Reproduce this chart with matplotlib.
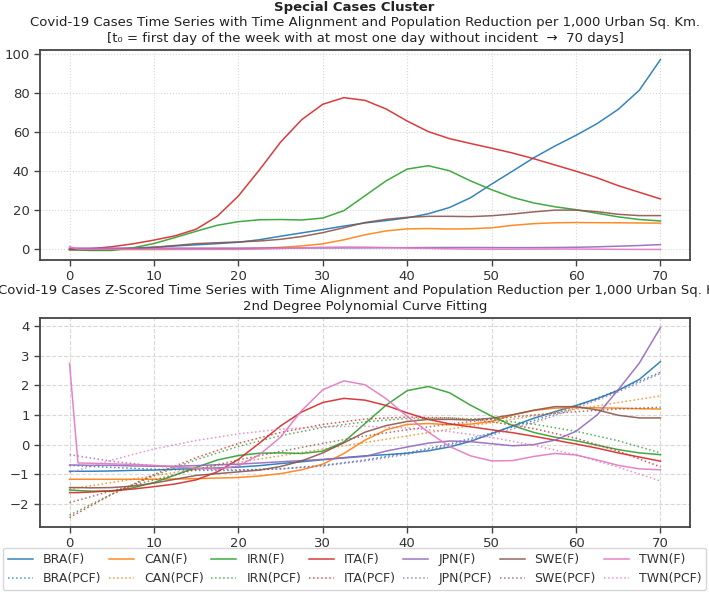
import numpy as np
import matplotlib.pyplot as plt

# day index after time alignment (t0 = 0)
days = np.concatenate([[0, 1], np.arange(2.5, 70.1, 2.5)])
fit_days = np.arange(0, 71, 5)

countries = ['BRA', 'CAN', 'IRN', 'ITA', 'JPN', 'SWE', 'TWN']
colors = ['tab:blue', 'tab:orange', 'tab:green', 'tab:red', 'tab:purple', 'tab:brown', 'tab:pink']

# cases per 1,000 urban sq. km (smoothed)
bra = [0, 0, 0.1, 0.3, 0.7, 1.2, 1.8, 2.4, 3.0, 3.7, 5.0, 6.8, 8.5, 10.2, 12.0, 13.6, 14.8, 16.2,
       18.3, 21.5, 26.5, 33.5, 40.2, 47.0, 53.0, 58.5, 64.5, 71.8, 81.6, 97.3]
can = [0, 0, 0, 0, 0, 0, 0.06, 0.12, 0.23, 0.34, 0.63, 1.08, 1.82, 2.91, 4.96, 7.53, 9.52, 10.55,
       10.72, 10.49, 10.6, 11.11, 12.37, 13.23, 13.68, 13.8, 13.74, 13.68, 13.57, 13.51]
irn = [0, -0.27, -0.5, -0.5, 0.84, 3.06, 6.13, 9.33, 12.4, 14.25, 15.23, 15.36, 15.11, 16.1, 19.9,
       27.53, 35.16, 41.19, 42.91, 40.33, 35.16, 30.61, 26.67, 23.84, 21.88, 20.4, 18.55, 16.71, 15.36, 14.62]
ita = [0, 0.1, 0.4, 1.4, 2.9, 4.8, 7.0, 10.4, 17.0, 27.4, 40.8, 55.0, 66.5, 74.4, 77.8, 76.4, 72.0,
       65.8, 60.4, 56.8, 54.3, 51.9, 49.4, 46.5, 43.3, 40.1, 36.7, 32.7, 29.3, 25.9]
jpn = [0.70, 0.70, 0.70, 0.70, 0.69, 0.69, 0.69, 0.69, 0.70, 0.71, 0.73, 0.74, 0.76, 0.78, 0.79,
       0.81, 0.88, 0.94, 0.99, 1.02, 1.01, 0.98, 0.95, 0.97, 1.03, 1.15, 1.36, 1.69, 2.04, 2.51]
swe = [0, 0, -0.1, 0, 0.34, 1.08, 2.04, 3.0, 3.45, 3.89, 4.34, 5.22, 6.63, 8.63, 11.14, 13.81, 15.44,
       16.47, 16.99, 16.99, 16.84, 17.29, 18.17, 19.28, 20.17, 20.17, 19.36, 18.03, 17.36, 17.36]
twn = [1.49, 0.12, 0.11, 0.10, 0.10, 0.08, 0.06, 0.04, 0.03, 0.07, 0.23, 0.47, 0.84, 1.13, 1.25,
       1.20, 1.01, 0.76, 0.54, 0.35, 0.21, 0.14, 0.15, 0.21, 0.25, 0.23, 0.16, 0.08, 0.03, 0.02]

# z-scored series
bra_z = [-0.90, -0.90, -0.90, -0.89, -0.87, -0.86, -0.83, -0.81, -0.79, -0.76, -0.71, -0.64, -0.58, -0.51,
         -0.44, -0.38, -0.34, -0.29, -0.21, -0.08, 0.11, 0.37, 0.63, 0.89, 1.11, 1.32, 1.55, 1.83, 2.20, 2.80]
can_z = [-1.17, -1.17, -1.17, -1.17, -1.17, -1.17, -1.16, -1.15, -1.13, -1.11, -1.06, -0.98, -0.85, -0.66,
         -0.30, 0.15, 0.50, 0.68, 0.71, 0.67, 0.69, 0.78, 1.00, 1.15, 1.23, 1.25, 1.24, 1.23, 1.21, 1.20]
irn_z = [-1.53, -1.55, -1.57, -1.57, -1.46, -1.28, -1.03, -0.77, -0.52, -0.37, -0.29, -0.28, -0.30, -0.22,
         0.09, 0.71, 1.33, 1.82, 1.96, 1.75, 1.33, 0.96, 0.64, 0.41, 0.25, 0.13, -0.02, -0.17, -0.28, -0.34]
ita_z = [-1.62, -1.62, -1.60, -1.56, -1.50, -1.42, -1.33, -1.19, -0.92, -0.50, 0.05, 0.63, 1.10, 1.42,
         1.56, 1.50, 1.32, 1.07, 0.85, 0.70, 0.60, 0.50, 0.40, 0.28, 0.15, 0.02, -0.12, -0.28, -0.42, -0.56]
jpn_z = [-0.69, -0.69, -0.70, -0.70, -0.72, -0.73, -0.73, -0.71, -0.68, -0.66, -0.62, -0.58, -0.54, -0.50,
         -0.45, -0.40, -0.22, -0.08, 0.05, 0.12, 0.10, 0.03, -0.04, 0.00, 0.15, 0.45, 1.00, 1.85, 2.75, 3.95]
swe_z = [-1.45, -1.45, -1.46, -1.45, -1.40, -1.30, -1.17, -1.04, -0.98, -0.92, -0.86, -0.74, -0.55, -0.28,
         0.06, 0.42, 0.64, 0.78, 0.85, 0.85, 0.83, 0.89, 1.01, 1.16, 1.28, 1.28, 1.17, 0.99, 0.90, 0.90]
twn_z = [2.74, -0.62, -0.63, -0.65, -0.67, -0.70, -0.75, -0.80, -0.82, -0.72, -0.34, 0.25, 1.15, 1.85,
         2.15, 2.02, 1.55, 0.95, 0.42, -0.06, -0.38, -0.55, -0.54, -0.40, -0.30, -0.35, -0.52, -0.70, -0.82, -0.85]

# 2nd degree polynomial curve fits (every 5 days)
bra_pcf = [-0.70, -0.77, -0.83, -0.87, -0.87, -0.82, -0.70, -0.52, -0.28, 0.02, 0.39, 0.81, 1.29, 1.84, 2.44]
can_pcf = [-1.50, -1.28, -1.05, -0.83, -0.60, -0.38, -0.15, 0.07, 0.29, 0.52, 0.74, 0.97, 1.19, 1.42, 1.64]
irn_pcf = [-2.38, -1.67, -1.05, -0.51, -0.06, 0.30, 0.58, 0.77, 0.88, 0.90, 0.84, 0.69, 0.45, 0.13, -0.28]
ita_pcf = [-2.46, -1.68, -1.01, -0.44, 0.04, 0.41, 0.68, 0.86, 0.93, 0.90, 0.77, 0.54, 0.21, -0.22, -0.75]
jpn_pcf = [-0.34, -0.56, -0.72, -0.82, -0.85, -0.82, -0.72, -0.55, -0.33, -0.03, 0.32, 0.74, 1.23, 1.78, 2.40]
swe_pcf = [-1.96, -1.56, -1.19, -0.84, -0.52, -0.23, 0.04, 0.29, 0.50, 0.69, 0.86, 1.00, 1.11, 1.20, 1.26]
twn_pcf = [-0.95, -0.52, -0.15, 0.14, 0.36, 0.52, 0.60, 0.62, 0.56, 0.44, 0.24, -0.02, -0.35, -0.76, -1.23]

cases = [bra, can, irn, ita, jpn, swe, twn]
zscored = [bra_z, can_z, irn_z, ita_z, jpn_z, swe_z, twn_z]
fits = [bra_pcf, can_pcf, irn_pcf, ita_pcf, jpn_pcf, swe_pcf, twn_pcf]

fig = plt.figure(figsize=(7.09, 5.92), dpi=100)
ax1 = fig.add_axes([0.0564, 0.5608, 0.9168, 0.3547])
ax2 = fig.add_axes([0.0564, 0.1098, 0.9168, 0.353])

for c, y, col in zip(countries, cases, colors):
    ax1.plot(days, y, color=col, lw=1.1, alpha=0.9, label=c + '(F)')

for c, y, f, col in zip(countries, zscored, fits, colors):
    ax2.plot(days, y, color=col, lw=1.1, alpha=0.9, label=c + '(F)')
    ax2.plot(fit_days, f, color=col, lw=1.1, ls=':', alpha=0.8, label=c + '(PCF)')

for ax, gls in [(ax1, ':'), (ax2, '--')]:
    ax.grid(True, ls=gls, color='#d8d8d8', lw=0.8)
    ax.set_axisbelow(True)
    for s in ax.spines.values():
        s.set_color('#444444')
        s.set_linewidth(1.3)
    ax.tick_params(direction='out', length=4, width=1, color='#444444',
                   labelsize=9.5, labelcolor='#333333')
    ax.set_xticks(np.arange(0, 71, 10))

ax1.set_yticks([0, 20, 40, 60, 80, 100])
ax2.set_yticks([-2, -1, 0, 1, 2, 3, 4])

fig.text(0.5, 1 - 8 / 592, 'Special Cases Cluster', ha='center', va='center',
         fontsize=9.5, fontweight='bold', color='#222222')
ax1.set_title('Covid-19 Cases Time Series with Time Alignment and Population Reduction per 1,000 Urban Sq. Km.\n'
              '[t\u2080 = first day of the week with at most one day without incident  \u2192  70 days]',
              fontsize=9.5, color='#222222', linespacing=1.3, pad=6)
ax2.set_title('Covid-19 Cases Z-Scored Time Series with Time Alignment and Population Reduction per 1,000 Urban Sq. Km.\n'
              '2nd Degree Polynomial Curve Fitting',
              fontsize=9.5, color='#222222', linespacing=1.3, pad=6)

handles, labels = ax2.get_legend_handles_labels()
fig.legend(handles, labels, loc='lower left', ncol=7, mode='expand',
           bbox_to_anchor=(0.004, 0.003, 0.992, 0.071), borderaxespad=0,
           fontsize=9, handlelength=2, frameon=True, edgecolor='#cccccc',
           labelcolor='#333333')

fig.savefig('out.png', dpi=100)
